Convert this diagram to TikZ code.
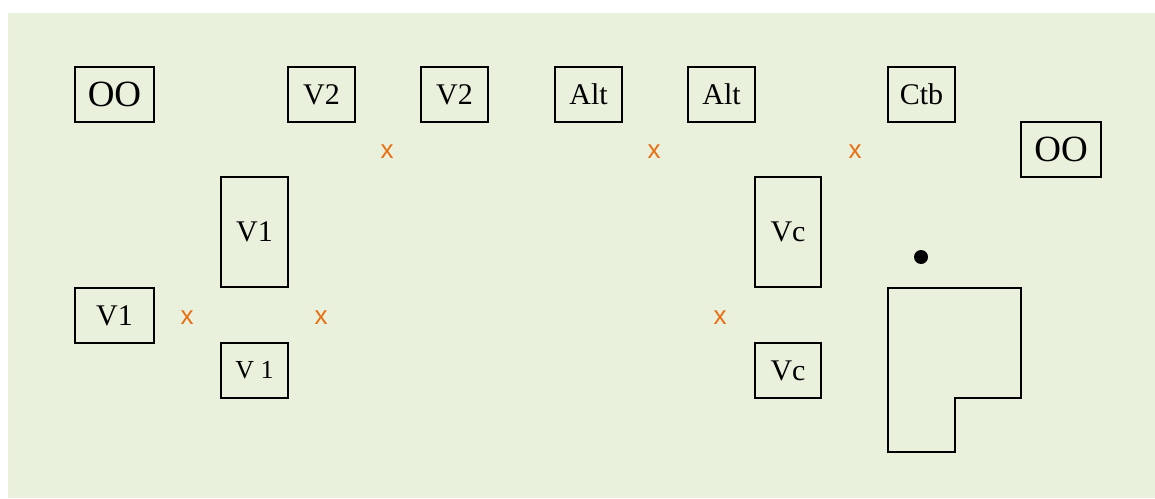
\documentclass[tikz,border=0pt]{standalone}
\usepackage{fontspec}
\setmainfont{Liberation Serif}
\newfontfamily\xfont{Liberation Sans}
\definecolor{paper}{RGB}{233,240,220}
\definecolor{xorange}{RGB}{232,112,20}

\begin{document}
\begin{tikzpicture}[x=1pt,y=-1pt,
    box/.style={draw, line width=2pt, inner sep=0pt, outer sep=0pt,
        minimum width=67pt, minimum height=55pt, font=\fontsize{30}{30}\selectfont},
    widebox/.style={box, minimum width=79pt, font=\fontsize{37}{37}\selectfont},
    tallbox/.style={box, minimum height=110pt},
    xmark/.style={text=xorange, inner sep=0pt, font=\xfont\fontsize{26}{26}\selectfont}]
        \useasboundingbox (0,0) rectangle (1155,498);
        \fill[white] (0,0) rectangle (1155,498);
        \fill[paper] (8,13) rectangle (1155,498);
        % top row
        \node[widebox] (oo1) at (114.5,94.5) {OO};
        \node[box] (v2a) at (321.5,94.5) {V2};
        \node[box] (v2b) at (454.5,94.5) {V2};
        \node[box] (alta) at (588.5,94.5) {Alt};
        \node[box] (altb) at (721.5,94.5) {Alt};
        \node[box] (ctb) at (921.5,94.5) {Ctb};
        \node[widebox, minimum width=80pt] (oo2) at (1061,149.5) {OO};
        % left group
        \node[tallbox] (v1tall) at (254.5,232) {V1};
        \node[widebox, font=\fontsize{30}{30}\selectfont] (v1left) at (114.5,315.5) {V1};
        \node[box, font=\fontsize{26}{26}\selectfont] (v1small) at (254.5,370.5) {V 1};
        % right group
        \node[tallbox, minimum width=66pt] (vctall) at (788,232) {Vc};
        \node[box, minimum width=66pt] (vcsmall) at (788,370.5) {Vc};
        % crosses
        \node[xmark] (xa) at (387,152) {x};
        \node[xmark] (xb) at (654,152) {x};
        \node[xmark] (xc) at (855,152) {x};
        \node[xmark] (xd) at (187,318) {x};
        \node[xmark] (xe) at (321,318) {x};
        \node[xmark] (xf) at (720,318) {x};
        % L shaped room and dot
        \fill (921,257) circle[radius=7];
        \draw[line width=2pt] (888,288) -- (1021,288) -- (1021,398) -- (955,398)
            -- (955,452) -- (888,452) -- cycle;
    \end{tikzpicture}
\end{document}
